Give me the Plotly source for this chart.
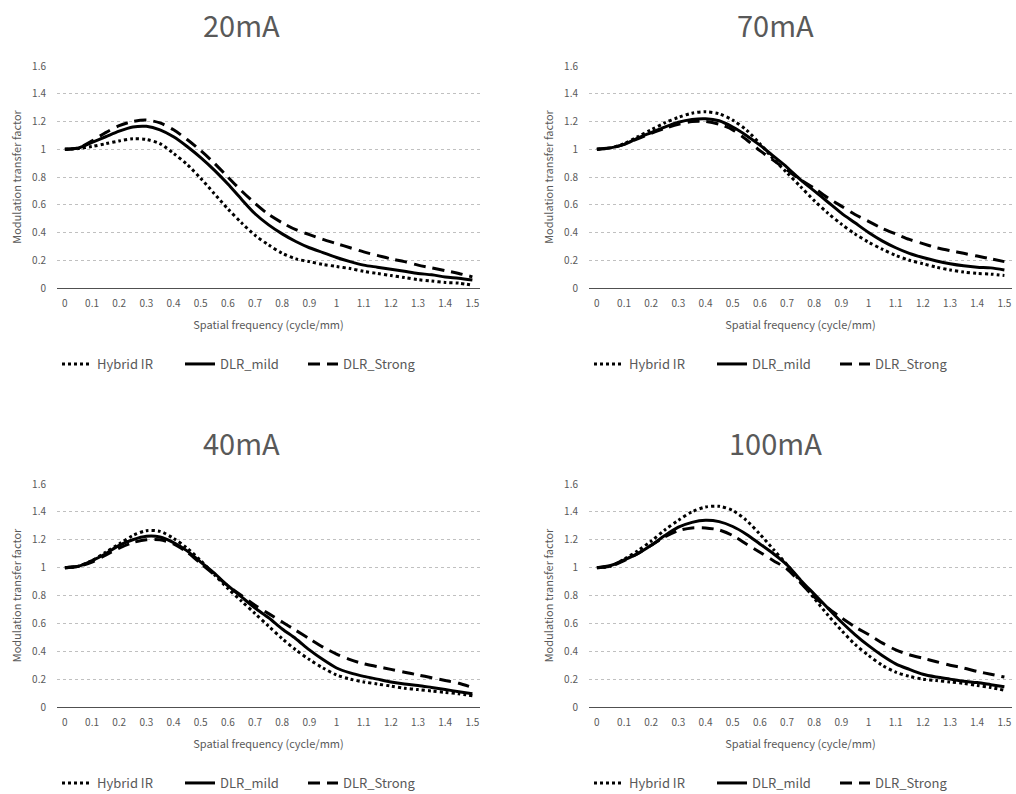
import plotly.graph_objects as go

FREQ = [0.0, 0.05, 0.1, 0.15, 0.2, 0.25, 0.3, 0.35, 0.4, 0.45, 0.5, 0.55, 0.6, 0.65, 0.7, 0.75,
        0.8, 0.85, 0.9, 0.95, 1.0, 1.05, 1.1, 1.15, 1.2, 1.25, 1.3, 1.35, 1.4, 1.45, 1.5]
X_TICKS = [0, 0.1, 0.2, 0.3, 0.4, 0.5, 0.6, 0.7, 0.8, 0.9, 1.0, 1.1, 1.2, 1.3, 1.4, 1.5]
X_TICK_TEXT = ["0", "0.1", "0.2", "0.3", "0.4", "0.5", "0.6", "0.7", "0.8", "0.9", "1",
               "1.1", "1.2", "1.3", "1.4", "1.5"]
Y_TICKS = [0, 0.2, 0.4, 0.6, 0.8, 1.0, 1.2, 1.4, 1.6]
Y_TICK_TEXT = ["0", "0.2", "0.4", "0.6", "0.8", "1", "1.2", "1.4", "1.6"]

SERIES = ["Hybrid IR", "DLR_mild", "DLR_Strong"]
PANELS = ["20mA", "70mA", "40mA", "100mA"]

HYB_20 = [1.0, 1.005, 1.02, 1.04, 1.06, 1.075, 1.07, 1.04, 0.97, 0.89, 0.79, 0.68, 0.57, 0.47, 0.38, 0.31,
          0.25, 0.21, 0.19, 0.17, 0.155, 0.14, 0.12, 0.105, 0.09, 0.075, 0.06, 0.05, 0.04, 0.035, 0.02]
MILD_20 = [1.0, 1.01, 1.05, 1.09, 1.13, 1.16, 1.165, 1.14, 1.09, 1.02, 0.94, 0.85, 0.75, 0.64, 0.535, 0.455,
           0.39, 0.335, 0.29, 0.255, 0.22, 0.19, 0.165, 0.15, 0.135, 0.12, 0.105, 0.095, 0.08, 0.07, 0.057]
STR_20 = [1.0, 1.01, 1.06, 1.12, 1.17, 1.2, 1.21, 1.19, 1.14, 1.07, 0.99, 0.9, 0.8, 0.7, 0.61, 0.53,
          0.47, 0.42, 0.385, 0.35, 0.32, 0.29, 0.26, 0.235, 0.21, 0.19, 0.165, 0.145, 0.125, 0.105, 0.08]

HYB_70 = [1.0, 1.01, 1.04, 1.09, 1.14, 1.19, 1.23, 1.26, 1.27, 1.255, 1.21, 1.14, 1.04, 0.93, 0.83, 0.73,
          0.63, 0.54, 0.46, 0.39, 0.33, 0.28, 0.235, 0.2, 0.175, 0.15, 0.13, 0.115, 0.105, 0.1, 0.09]
MILD_70 = [1.0, 1.01, 1.035, 1.08, 1.12, 1.16, 1.195, 1.215, 1.22, 1.205, 1.16, 1.1, 1.03, 0.95, 0.87, 0.78,
           0.7, 0.62, 0.54, 0.47, 0.4, 0.34, 0.29, 0.25, 0.22, 0.195, 0.175, 0.16, 0.15, 0.145, 0.13]
STR_70 = [1.0, 1.01, 1.035, 1.075, 1.115, 1.15, 1.18, 1.2, 1.2, 1.18, 1.14, 1.07, 0.99, 0.92, 0.85, 0.78,
          0.72, 0.65, 0.59, 0.53, 0.48, 0.43, 0.39, 0.35, 0.32, 0.29, 0.27, 0.25, 0.23, 0.21, 0.19]

HYB_40 = [1.0, 1.01, 1.05, 1.11, 1.17, 1.23, 1.265, 1.26, 1.21, 1.14, 1.05, 0.95, 0.85, 0.76, 0.67, 0.58,
          0.49, 0.41, 0.34, 0.28, 0.23, 0.2, 0.18, 0.165, 0.15, 0.135, 0.125, 0.115, 0.105, 0.095, 0.08]
MILD_40 = [1.0, 1.01, 1.05, 1.1, 1.16, 1.2, 1.225, 1.22, 1.18, 1.12, 1.04, 0.96, 0.87, 0.79, 0.71, 0.64,
           0.56, 0.49, 0.41, 0.34, 0.28, 0.245, 0.22, 0.2, 0.18, 0.165, 0.155, 0.14, 0.125, 0.11, 0.095]
STR_40 = [1.0, 1.01, 1.04, 1.09, 1.14, 1.18, 1.2, 1.2, 1.17, 1.11, 1.03, 0.95, 0.87, 0.8, 0.73, 0.67,
          0.61, 0.55, 0.49, 0.43, 0.38, 0.34, 0.31, 0.29, 0.27, 0.25, 0.23, 0.21, 0.19, 0.17, 0.14]

HYB_100 = [1.0, 1.01, 1.06, 1.12, 1.19, 1.27, 1.34, 1.4, 1.435, 1.44, 1.41, 1.34, 1.24, 1.13, 1.02, 0.9,
           0.78, 0.66, 0.55, 0.45, 0.37, 0.3, 0.25, 0.22, 0.2, 0.19, 0.18, 0.17, 0.155, 0.14, 0.12]
MILD_100 = [1.0, 1.015, 1.055, 1.1, 1.16, 1.23, 1.29, 1.325, 1.34, 1.33, 1.295, 1.24, 1.17, 1.1, 1.02, 0.91,
            0.81, 0.71, 0.61, 0.52, 0.44, 0.37, 0.31, 0.27, 0.235, 0.215, 0.2, 0.185, 0.175, 0.16, 0.145]
STR_100 = [1.0, 1.01, 1.05, 1.1, 1.16, 1.22, 1.265, 1.285, 1.285, 1.27, 1.23, 1.17, 1.11, 1.05, 0.99, 0.89,
           0.79, 0.71, 0.64, 0.575, 0.52, 0.46, 0.41, 0.375, 0.35, 0.325, 0.3, 0.28, 0.255, 0.235, 0.215]

DATA = {
    "20mA": [HYB_20, MILD_20, STR_20],
    "70mA": [HYB_70, MILD_70, STR_70],
    "40mA": [HYB_40, MILD_40, STR_40],
    "100mA": [HYB_100, MILD_100, STR_100],
}

W, H = 1016, 794
FONT = "Noto Sans CJK JP, Noto Sans, sans-serif"
GRAY = "#595959"

# plot areas in pixels: (x0, x1, ytop, ybottom) and chart-title centres
BOXES = [(57, 480, 66, 288), (589, 1012, 66, 288), (57, 480, 484, 707), (589, 1012, 484, 707)]
TITLE_X = [241, 775, 241, 775]
DASHES = ["3px,3px", "solid", "12px,7px"]

fig = go.Figure()
for i, panel in enumerate(PANELS):
    sfx = "" if i == 0 else str(i + 1)
    leg = "legend" + sfx
    for s, name in enumerate(SERIES):
        fig.add_trace(go.Scatter(
            x=FREQ, y=DATA[panel][s], name=name, mode="lines",
            line=dict(color="black", width=3, dash=DASHES[s], shape="spline", smoothing=0.8),
            xaxis="x" + sfx, yaxis="y" + sfx, legend=leg, showlegend=True,
        ))
    x0, x1, yt, yb = BOXES[i]
    fig.layout["xaxis" + sfx] = dict(
        domain=[x0 / W, x1 / W], anchor="y" + sfx, range=[-0.029, 1.528],
        tickvals=X_TICKS, ticktext=X_TICK_TEXT, showgrid=False, zeroline=False,
        showline=True, linecolor="#505050", linewidth=1, ticks="", automargin=False,
        tickfont=dict(size=10, color=GRAY, family=FONT), ticklabelstandoff=6,
        title=dict(text="Spatial frequency (cycle/mm)", font=dict(size=11, color=GRAY, family=FONT), standoff=12),
    )
    fig.layout["yaxis" + sfx] = dict(
        domain=[1 - yb / H, 1 - yt / H], anchor="x" + sfx, range=[0, 1.6],
        tickvals=Y_TICKS, ticktext=Y_TICK_TEXT, showgrid=True, gridcolor="#c0c0c0", gridwidth=1,
        griddash="dot", zeroline=False, showline=False, ticks="", automargin=False,
        tickfont=dict(size=10, color=GRAY, family=FONT), ticklabelstandoff=10,
        title=dict(text="Modulation transfer factor", font=dict(size=11, color=GRAY, family=FONT), standoff=8),
    )
    legy = (yb + 76) / H
    fig.layout[leg] = dict(
        orientation="h", x=x0 / W, xanchor="left", y=1 - legy, yanchor="middle",
        font=dict(size=13, color=GRAY, family=FONT), bgcolor="rgba(0,0,0,0)",
        itemwidth=30, entrywidth=78, entrywidthmode="pixels", traceorder="normal",
    )
    fig.add_annotation(
        text=panel, xref="paper", yref="paper", x=TITLE_X[i] / W, y=1 - (yt - 42) / H,
        showarrow=False, xanchor="center", yanchor="middle",
        font=dict(size=29, color=GRAY, family=FONT),
    )

fig.update_layout(
    width=W, height=H, margin=dict(l=0, r=0, t=0, b=0, autoexpand=False),
    paper_bgcolor="white", plot_bgcolor="white", font=dict(family=FONT, color=GRAY),
)
fig.write_html("out.html", config={"displayModeBar": False},
               post_script="document.body.style.margin='0px';")
